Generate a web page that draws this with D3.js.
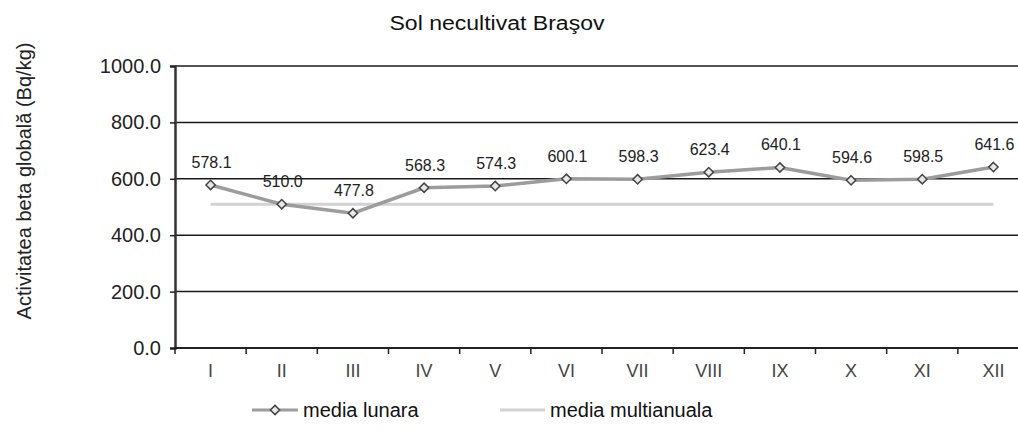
<!DOCTYPE html>
<html>
<head>
<meta charset="utf-8">
<script src="https://cdn.jsdelivr.net/npm/d3@7.9.0/dist/d3.min.js"></script>
<style>
  body { margin: 0; background: #fff; }
  svg { display: block; font-family: "Liberation Sans", Arial, sans-serif; }
</style>
</head>
<body>
<svg id="chart" width="1018" height="437"></svg>
<script>
// data
const months = ['I', 'II', 'III', 'IV', 'V', 'VI', 'VII', 'VIII', 'IX', 'X', 'XI', 'XII'];
const monthly = [578.1, 510.0, 477.8, 568.3, 574.3, 600.1, 598.3, 623.4, 640.1, 594.6, 598.5, 641.6];
const multiannual = [510, 510, 510, 510, 510, 510, 510, 510, 510, 510, 510, 510];
const yTicks = [0, 200, 400, 600, 800, 1000];

const svg = d3.select('#chart');

// plot area (runs a little past the right edge, like the scan)
const plotLeft = 175, plotRight = 1029, plotTop = 66, plotBottom = 348;

const x = d3.scaleBand().domain(months).range([plotLeft, plotRight]).padding(0);
const y = d3.scaleLinear().domain([0, 1000]).range([plotBottom, plotTop]);
const cx = (d) => x(d) + x.bandwidth() / 2;

// title
svg.append('text')
  .attr('x', 497).attr('y', 30)
  .attr('text-anchor', 'middle')
  .attr('font-size', 20)
  .attr('textLength', 215)
  .attr('lengthAdjust', 'spacingAndGlyphs')
  .attr('fill', '#111')
  .text('Sol necultivat Braşov');

// y axis title
svg.append('text')
  .attr('transform', 'translate(31,181) rotate(-90)')
  .attr('text-anchor', 'middle')
  .attr('font-size', 20)
  .attr('fill', '#222')
  .text('Activitatea beta globală (Bq/kg)');

// horizontal gridlines
svg.append('g')
  .selectAll('line')
  .data(yTicks.filter((d) => d > 0))
  .join('line')
  .attr('x1', plotLeft).attr('x2', 1018)
  .attr('y1', (d) => y(d)).attr('y2', (d) => y(d))
  .attr('stroke', '#1a1a1a')
  .attr('stroke-width', 1.5);

// y axis
const yAxis = svg.append('g')
  .attr('transform', `translate(${plotLeft},0)`)
  .call(d3.axisLeft(y).tickValues(yTicks).tickFormat(d3.format('.1f')).tickSize(5).tickPadding(9));
yAxis.select('.domain').attr('stroke', '#333').attr('stroke-width', 2.5);
yAxis.selectAll('.tick line').attr('stroke', '#222').attr('stroke-width', 1.5);
yAxis.selectAll('.tick text')
  .attr('font-size', 20)
  .attr('fill', '#222')
  .attr('font-family', '"Liberation Sans", Arial, sans-serif');

// x axis (ticks at category boundaries)
svg.append('line')
  .attr('x1', plotLeft).attr('x2', 1018)
  .attr('y1', plotBottom).attr('y2', plotBottom)
  .attr('stroke', '#222').attr('stroke-width', 2);
svg.append('g')
  .selectAll('line')
  .data(months)
  .join('line')
  .attr('x1', (d) => x(d)).attr('x2', (d) => x(d))
  .attr('y1', plotBottom).attr('y2', plotBottom + 6)
  .attr('stroke', '#222').attr('stroke-width', 1.5);
svg.append('g')
  .selectAll('text')
  .data(months)
  .join('text')
  .attr('x', (d) => cx(d))
  .attr('y', 377)
  .attr('text-anchor', 'middle')
  .attr('font-size', 18)
  .attr('fill', '#444')
  .text((d) => d);

// multiannual average line
svg.append('path')
  .datum(multiannual)
  .attr('fill', 'none')
  .attr('stroke', '#d2d2d2')
  .attr('stroke-width', 3)
  .attr('d', d3.line().x((d, i) => cx(months[i])).y((d) => y(d)));

// monthly average line
svg.append('path')
  .datum(monthly)
  .attr('fill', 'none')
  .attr('stroke', '#9c9c9c')
  .attr('stroke-width', 3.5)
  .attr('d', d3.line().x((d, i) => cx(months[i])).y((d) => y(d)));

const diamond = d3.symbol().type(d3.symbolDiamond2).size(55);
svg.append('g')
  .selectAll('path')
  .data(monthly)
  .join('path')
  .attr('d', diamond)
  .attr('transform', (d, i) => `translate(${cx(months[i])},${y(d)})`)
  .attr('fill', '#e8e8e8')
  .attr('stroke', '#444')
  .attr('stroke-width', 1.5);

// data labels
svg.append('g')
  .selectAll('text')
  .data(monthly)
  .join('text')
  .attr('x', (d, i) => cx(months[i]) + 1)
  .attr('y', (d) => y(d) - 17)
  .attr('text-anchor', 'middle')
  .attr('font-size', 16)
  .attr('fill', '#222')
  .text((d) => d.toFixed(1));

// legend
const legend = svg.append('g');
legend.append('line')
  .attr('x1', 252).attr('x2', 298).attr('y1', 410).attr('y2', 410)
  .attr('stroke', '#9c9c9c').attr('stroke-width', 3);
legend.append('path')
  .attr('d', diamond)
  .attr('transform', 'translate(275,410)')
  .attr('fill', '#e8e8e8').attr('stroke', '#444').attr('stroke-width', 1.5);
legend.append('text')
  .attr('x', 303).attr('y', 417)
  .attr('font-size', 20).attr('fill', '#111')
  .text('media lunara');
legend.append('line')
  .attr('x1', 500).attr('x2', 545).attr('y1', 410).attr('y2', 410)
  .attr('stroke', '#d2d2d2').attr('stroke-width', 3);
legend.append('text')
  .attr('x', 550).attr('y', 417)
  .attr('font-size', 20).attr('fill', '#111')
  .text('media multianuala');
</script>
</body>
</html>
